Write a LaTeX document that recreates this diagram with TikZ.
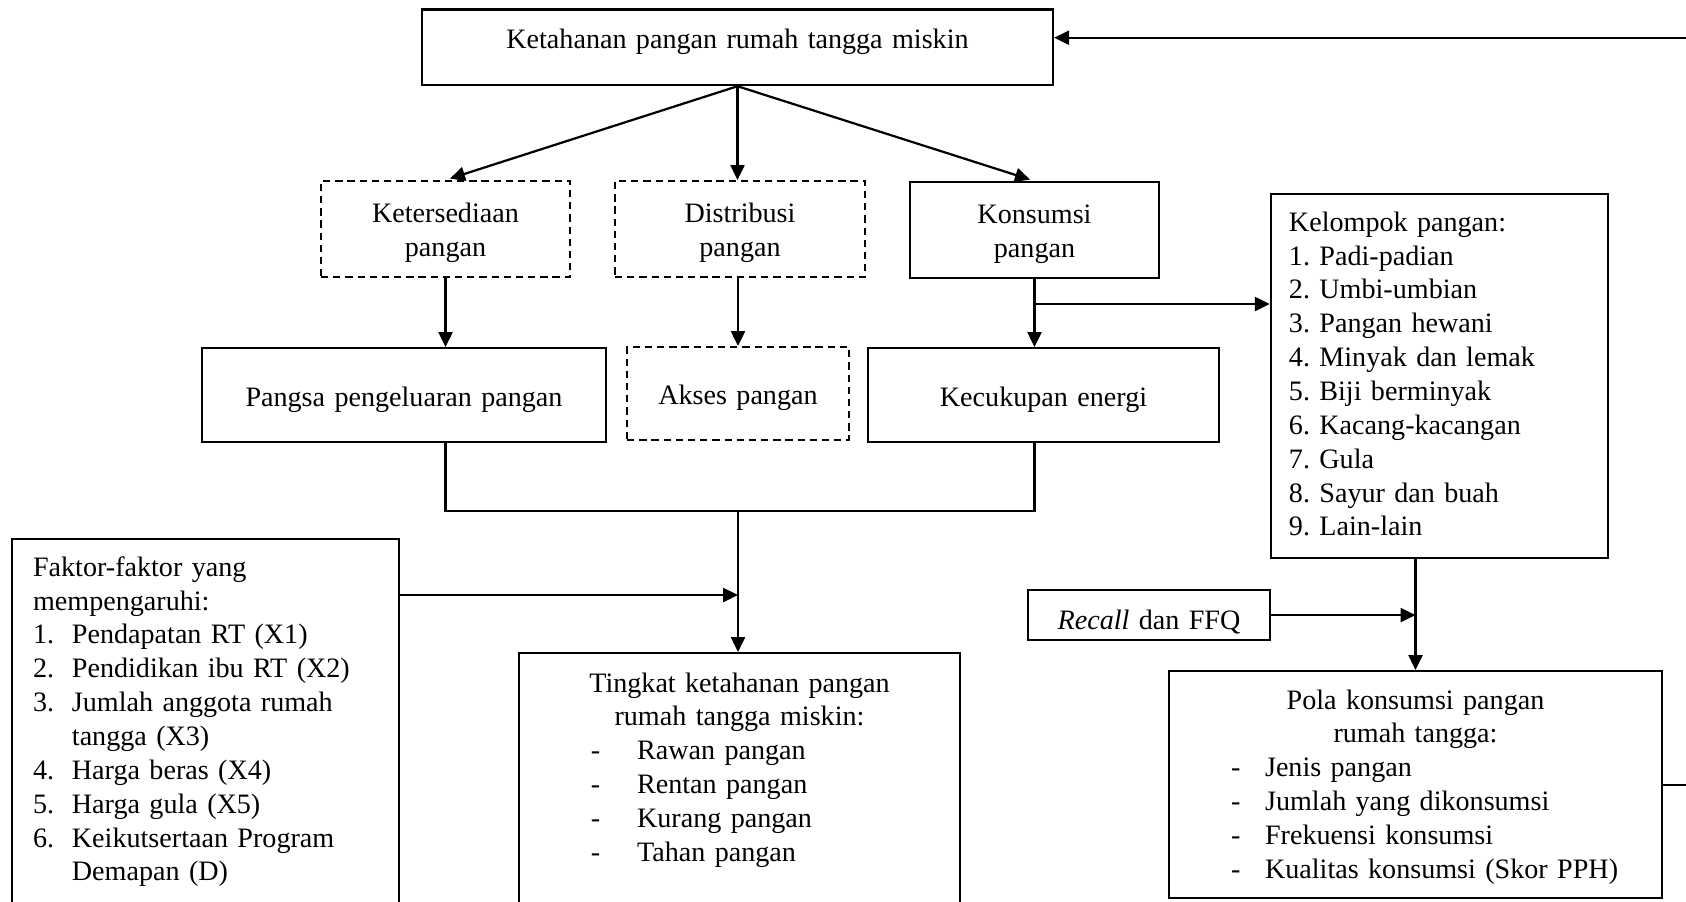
\documentclass[tikz,border=0pt]{standalone}
\usepackage{fontspec}
\setmainfont{Liberation Serif}
\usetikzlibrary{arrows.meta,positioning}

\newcommand{\butir}[3]{\makebox[\linewidth][l]{\hspace*{#1}\makebox[#2][l]{-}#3}}
\newcommand{\nomor}[1]{\makebox[16.6pt][l]{#1}}

\begin{document}
\frenchspacing
\begin{tikzpicture}[
	x = 0.015cm, y = -0.015cm, % one unit = one pixel of the sketch
	> = {Triangle[length=6.4pt, width=6pt]}, % arrow head style
	line width = 0.95pt, % line style
	B/.style={draw=black, anchor=north, inner ysep=0pt, inner xsep=0pt, align=center, font=\fontsize{12pt}{14.45pt}\selectfont\frenchspacing},
	BD/.style={B, dash pattern=on 3.1pt off 2.1pt},
	BL/.style={B, align=left, inner xsep=9pt},
	]
	\useasboundingbox (0,0) rectangle (1686,901);
	\clip (0,0) rectangle (1686,901);

	% Top item
	\node[B, text width=269.3pt, text height=16.8pt, text depth=15.5pt] (atas) at (737.5,8.3) {Ketahanan pangan rumah tangga miskin};

	% Pillars
	\node[BD, text width=106.3pt, text height=17.7pt, text depth=23.3pt] (sedia) at (445.5,180) {Ketersediaan\\ pangan};
	\node[BD, text width=106.7pt, text height=17.7pt, text depth=23.3pt] (distri) at (740,180) {Distribusi\\ pangan};
	\node[B, text width=106.3pt, text height=17.7pt, text depth=23.3pt] (konsumsi) at (1034.5,181) {Konsumsi\\ pangan};

	% Indicators
	\node[B, text width=172.4pt, text height=24.8pt, text depth=15.3pt] (pangsa) at (404,347) {Pangsa pengeluaran pangan};
	\node[BD, text width=94.7pt, text height=24.6pt, text depth=15.1pt] (akses) at (738,346) {Akses pangan};
	\node[B, text width=149.8pt, text height=24.8pt, text depth=15.3pt] (cukup) at (1043.5,347) {Kecukupan energi};

	\node[BL, inner xsep=7.7pt, text width=128.5pt, text height=15.8pt, text depth=139.6pt] (kelompok) at (1439.5,193) {Kelompok pangan:\\ 1. Padi-padian\\ 2. Umbi-umbian\\ 3. Pangan hewani\\ 4. Minyak dan lemak\\ 5. Biji berminyak\\ 6. Kacang-kacangan\\ 7. Gula\\ 8. Sayur dan buah\\ 9. Lain-lain};

	% Bottom row
	\node[BL, text width=147.2pt, text height=15.8pt, text depth=150pt] (faktor) at (205.5,538) {Faktor-faktor yang\\ mempengaruhi:\\ \nomor{1.}Pendapatan RT (X1)\\ \nomor{2.}Pendidikan ibu RT (X2)\\ \nomor{3.}Jumlah anggota rumah\\ \nomor{}tangga (X3)\\ \nomor{4.}Harga beras (X4)\\ \nomor{5.}Harga gula (X5)\\ \nomor{6.}Keikutsertaan Program\\ \nomor{}Demapan (D)};
	\node[B, text width=188.2pt, text height=16.6pt, text depth=110pt] (tingkat) at (739.5,652) {Tingkat ketahanan pangan\\ rumah tangga miskin:\\ \butir{30.7pt}{19.7pt}{Rawan pangan}\\ \butir{30.7pt}{19.7pt}{Rentan pangan}\\ \butir{30.7pt}{19.7pt}{Kurang pangan}\\ \butir{30.7pt}{19.7pt}{Tahan pangan}};
	\node[B, text width=103.3pt, text height=17pt, text depth=4.3pt] (recall) at (1149,589) {\textit{Recall} dan FFQ};
	\node[B, text width=210.4pt, text height=16.2pt, text depth=80.7pt] (pola) at (1415.5,670) {Pola konsumsi pangan\\ rumah tangga:\\ \butir{26.5pt}{14.5pt}{Jenis pangan}\\ \butir{26.5pt}{14.5pt}{Jumlah yang dikonsumsi}\\ \butir{26.5pt}{14.5pt}{Frekuensi konsumsi}\\ \butir{26.5pt}{14.5pt}{Kualitas konsumsi (Skor PPH)}};

	% Paths connecting nodes
	\path[->] (atas.south) edge[shorten >=2pt] (sedia.north)
	          edge (atas.south |- distri.north)
	          edge[shorten >=2pt] (konsumsi.north);
	\path[->] (sedia.south) edge (sedia.south |- pangsa.north);
	\path[->] (akses.north |- distri.south) edge (akses.north);
	\path[->] (konsumsi.south) edge (konsumsi.south |- cukup.north);
	\draw[->] (konsumsi.south |- 0,304) -- (kelompok.west |- 0,304);

	\coordinate (gabung) at (738,511);
	\draw (sedia.south |- pangsa.south) |- (gabung) -| (konsumsi.south |- cukup.south);
	\draw[->] (gabung) -- (gabung |- tingkat.north);
	\draw[->] (faktor.east |- 0,595) -- (gabung |- 0,595);

	\draw[->] (pola.north |- kelompok.south) -- (pola.north);
	\draw[->] (recall.east) -- (recall.east -| pola.north);
	\draw[->] (pola.east) -- ++(60,0) |- (atas.east |- 0,37.7);

\end{tikzpicture}
\end{document}
